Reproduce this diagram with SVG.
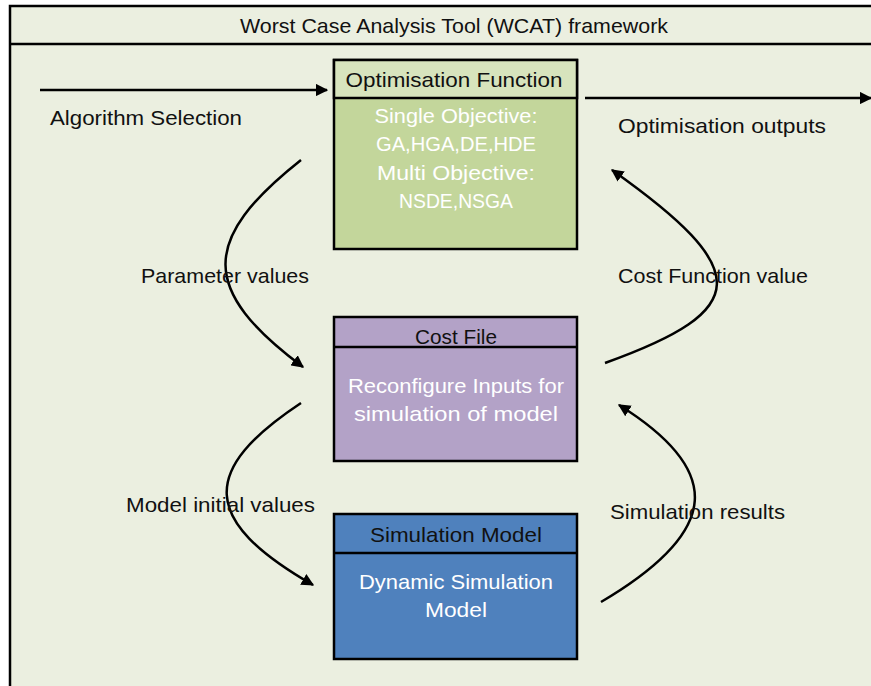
<svg xmlns="http://www.w3.org/2000/svg" width="871" height="686" viewBox="0 0 871 686">
<defs>
<style>
.lbl{font-family:"Liberation Sans","Open Sans",sans-serif;font-size:21px;fill:#111}
.wt{font-family:"Liberation Sans","Open Sans",sans-serif;font-size:21px;fill:#ffffff;text-anchor:middle}
.hd{font-family:"Liberation Sans","Open Sans",sans-serif;font-size:21px;fill:#111;text-anchor:middle}
.box{stroke:#000;stroke-width:2.5}
.con{fill:none;stroke:#000;stroke-width:2.5}
</style>
<marker id="ah" viewBox="0 0 10 10" refX="9" refY="5" markerWidth="5" markerHeight="5" orient="auto" markerUnits="strokeWidth">
<path d="M0,0 L10,5 L0,10 z" fill="#000"/>
</marker>
</defs>
<rect x="0" y="0" width="871" height="686" fill="#ffffff"/>
<g id="frame">
<rect x="10" y="6" width="880" height="700" fill="#EBEFE0" stroke="#000" stroke-width="2.5"/>
<line x1="10" y1="44" x2="871" y2="44" stroke="#000" stroke-width="2.5"/>
<text class="hd" x="454" y="33" textLength="428" lengthAdjust="spacingAndGlyphs">Worst Case Analysis Tool (WCAT) framework</text>
</g>
<g id="optimisation">
<rect class="box" x="334" y="60" width="243" height="189" fill="#C3D69B"/>
<rect class="box" x="334" y="60" width="243" height="38" fill="#D7E4BD"/>
<text class="hd" x="454" y="87" textLength="217" lengthAdjust="spacingAndGlyphs">Optimisation Function</text>
<text class="wt" x="456" y="123" textLength="163" lengthAdjust="spacingAndGlyphs">Single Objective:</text>
<text class="wt" x="456" y="151" textLength="160" lengthAdjust="spacingAndGlyphs">GA,HGA,DE,HDE</text>
<text class="wt" x="456" y="180" textLength="158" lengthAdjust="spacingAndGlyphs">Multi Objective:</text>
<text class="wt" x="456" y="208" textLength="114" lengthAdjust="spacingAndGlyphs">NSDE,NSGA</text>
</g>
<g id="costfile">
<rect class="box" x="334" y="317" width="243" height="144" fill="#B3A2C7"/>
<line x1="334" y1="347" x2="577" y2="347" stroke="#000" stroke-width="2.5"/>
<text class="hd" x="456" y="344" textLength="82" lengthAdjust="spacingAndGlyphs">Cost File</text>
<text class="wt" x="456" y="393" textLength="216" lengthAdjust="spacingAndGlyphs">Reconfigure Inputs for</text>
<text class="wt" x="456" y="421" textLength="204" lengthAdjust="spacingAndGlyphs">simulation of model</text>
</g>
<g id="simmodel">
<rect class="box" x="334" y="514" width="243" height="145" fill="#4F81BD"/>
<line x1="334" y1="553" x2="577" y2="553" stroke="#000" stroke-width="2.5"/>
<text class="hd" x="456" y="542" textLength="172" lengthAdjust="spacingAndGlyphs">Simulation Model</text>
<text class="wt" x="456" y="589" textLength="194" lengthAdjust="spacingAndGlyphs">Dynamic Simulation</text>
<text class="wt" x="456" y="617" textLength="62" lengthAdjust="spacingAndGlyphs">Model</text>
</g>
<g id="connectors">
<line class="con" x1="40" y1="90" x2="327" y2="90" marker-end="url(#ah)"/>
<line class="con" x1="585" y1="98" x2="871" y2="98" marker-end="url(#ah)"/>
<path class="con" d="M301,160 C200,240 200,290 303,367" marker-end="url(#ah)"/>
<path class="con" d="M605,363 C753,310 753,270 612,170" marker-end="url(#ah)"/>
<path class="con" d="M301,403 C200,470 200,520 313,585" marker-end="url(#ah)"/>
<path class="con" d="M601,602 C723,530 723,470 619,405" marker-end="url(#ah)"/>
</g>
<g id="labels">
<text class="lbl" x="50" y="125" textLength="192" lengthAdjust="spacingAndGlyphs">Algorithm Selection</text>
<text class="lbl" x="618" y="133" textLength="208" lengthAdjust="spacingAndGlyphs">Optimisation outputs</text>
<text class="lbl" x="141" y="283" textLength="168" lengthAdjust="spacingAndGlyphs">Parameter values</text>
<text class="lbl" x="618" y="283" textLength="190" lengthAdjust="spacingAndGlyphs">Cost Function value</text>
<text class="lbl" x="126" y="512" textLength="189" lengthAdjust="spacingAndGlyphs">Model initial values</text>
<text class="lbl" x="610" y="519" textLength="175" lengthAdjust="spacingAndGlyphs">Simulation results</text>
</g>
</svg>
